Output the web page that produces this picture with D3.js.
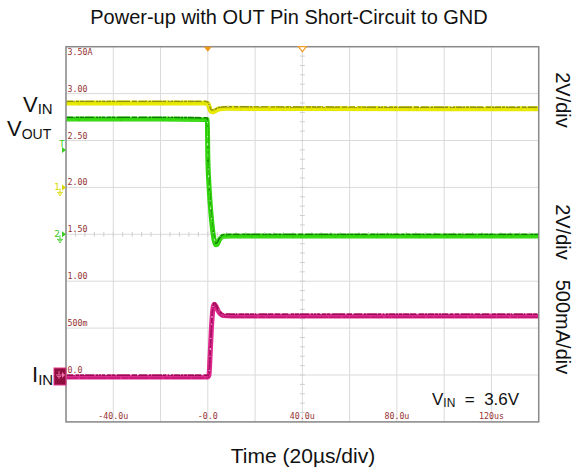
<!DOCTYPE html>
<html>
<head>
<meta charset="utf-8">
<script src="https://cdnjs.cloudflare.com/ajax/libs/d3/7.8.5/d3.min.js"></script>
<style>
  html, body { margin: 0; padding: 0; background: #fff; }
  svg { display: block; }
</style>
</head>
<body>
<svg id="chart" width="578" height="472"></svg>
<script>
// Scope capture: power-up with OUT pin shorted to GND.
// Time in microseconds, voltages in V, current in A.
const vinT  = [-60, -30, -1, 0, 0.6, 1.3, 2.2, 3.2, 4.5, 8, 40, 100, 140];
const vinV  = [3.60, 3.60, 3.60, 3.58, 3.42, 3.25, 3.23, 3.27, 3.34, 3.37, 3.36, 3.35, 3.35];

const voutT = [-60, -20, -0.6, -0.2, 0, 0.5, 1.0, 1.6, 2.2, 2.8, 3.4, 4.0, 5.0, 6.5, 10, 140];
const voutV = [4.92, 4.92, 4.90, 4.88, 3.3, 2.1, 1.3, 0.6, 0.05, -0.3, -0.45, -0.42, -0.22, -0.08, -0.07, -0.07];

const iinT  = [-60, -20, 0, 0.5, 0.95, 1.65, 2.3, 2.8, 3.5, 4.7, 6.5, 10, 140];
const iinA  = [-0.02, -0.02, -0.02, 0.0, 0.2, 0.55, 0.73, 0.755, 0.73, 0.67, 0.635, 0.63, 0.63];

// Graticule labels
const xTickValues = [-40, 0, 40, 80, 120];
const xTickLabels = ["-40.0u", "-0.0", "40.0u", "80.0u", "120us"];
const yTickValues = [3.5, 3.0, 2.5, 2.0, 1.5, 1.0, 0.5, 0.0];
const yTickLabels = ["3.50A", "3.00", "2.50", "2.00", "1.50", "1.00", "500m", "0.0"];

const svg = d3.select("#chart");
const plot = { left: 66, right: 538.7, top: 46.7, bottom: 421.9 };

// Horizontal: 20 us/div, 10 divisions
const x = d3.scaleLinear().domain([-60, 140]).range([plot.left, plot.right]);
// Current channel: 500 mA/div, ground one division up
const yI = d3.scaleLinear().domain([-0.5, 3.5]).range([plot.bottom, plot.top]);
// VIN channel: 2 V/div, ground five divisions up
const yVin = d3.scaleLinear().domain([-10, 6]).range([plot.bottom, plot.top]);
// VOUT channel: 2 V/div, ground four divisions up
const yVout = d3.scaleLinear().domain([-8, 8]).range([plot.bottom, plot.top]);

const g = svg.append("g");

// Grid
const gridColor = "#dadada";
g.selectAll("line.vgrid").data(x.ticks(10)).enter().append("line")
  .attr("x1", d => x(d)).attr("x2", d => x(d))
  .attr("y1", plot.top).attr("y2", plot.bottom)
  .attr("stroke", gridColor).attr("stroke-width", 1);
g.selectAll("line.hgrid").data(yI.ticks(8)).enter().append("line")
  .attr("x1", plot.left).attr("x2", plot.right)
  .attr("y1", d => yI(d)).attr("y2", d => yI(d))
  .attr("stroke", gridColor).attr("stroke-width", 1);

// Minor ticks on the centre cross
const cx = x(40), cy = yI(1.5);
g.selectAll("line.mx").data(d3.range(-60, 140.01, 4)).enter().append("line")
  .attr("x1", d => x(d)).attr("x2", d => x(d))
  .attr("y1", cy - 2.5).attr("y2", cy + 2.5)
  .attr("stroke", "#cfcfcf").attr("stroke-width", 1);
g.selectAll("line.my").data(d3.range(-0.5, 3.501, 0.1)).enter().append("line")
  .attr("x1", cx - 2.5).attr("x2", cx + 2.5)
  .attr("y1", d => yI(d)).attr("y2", d => yI(d))
  .attr("stroke", "#cfcfcf").attr("stroke-width", 1);

// Graticule labels
const tickFont = "'DejaVu Sans Mono', monospace";
const tickColor = "#963232";
g.selectAll("text.ylab").data(yTickValues).enter().append("text")
  .attr("x", plot.left + 1.5)
  .attr("y", (d, i) => i === 0 ? plot.top + 8.5 : yI(d) - 2)
  .attr("font-family", tickFont).attr("font-size", 8.3)
  .attr("fill", tickColor)
  .text((d, i) => yTickLabels[i]);
g.selectAll("text.xlab").data(xTickValues).enter().append("text")
  .attr("x", d => x(d))
  .attr("y", plot.bottom - 3)
  .attr("text-anchor", "middle")
  .attr("font-family", tickFont).attr("font-size", 8.3)
  .attr("fill", tickColor)
  .text((d, i) => xTickLabels[i]);

// Traces
const clip = svg.append("clipPath").attr("id", "plotclip").append("rect")
  .attr("x", plot.left).attr("y", plot.top)
  .attr("width", plot.right - plot.left).attr("height", plot.bottom - plot.top);
const traces = g.append("g").attr("clip-path", "url(#plotclip)");

function drawTrace(ts, vs, yScale, c) {
  const pts = ts.map((t, i) => [t, vs[i]]);
  const line = d3.line().x(d => x(d[0])).y(d => yScale(d[1])).curve(d3.curveMonotoneX);
  const tg = traces.append("g");
  tg.append("path").attr("d", line(pts)).attr("fill", "none")
    .attr("stroke", c.base).attr("stroke-width", 5).attr("stroke-linejoin", "round");
  tg.append("path").attr("d", line(pts)).attr("fill", "none")
    .attr("transform", "translate(0,-1.6)")
    .attr("stroke", c.edge).attr("stroke-width", 1.4)
    .attr("stroke-dasharray", "9,1,3,1,14,2,5,1");
  tg.append("path").attr("d", line(pts)).attr("fill", "none")
    .attr("transform", "translate(0,1.2)")
    .attr("stroke", c.core).attr("stroke-width", 1)
    .attr("stroke-dasharray", "12,2,6,1,20,1");
  tg.append("path").attr("d", line(pts)).attr("fill", "none")
    .attr("transform", "translate(0,-2.2)")
    .attr("stroke", "#ffffff").attr("stroke-width", 0.8)
    .attr("stroke-dasharray", "1,6,2,9,1,13");
}

drawTrace(vinT, vinV, yVin, { base: "#e2e200", edge: "#8f8f10", core: "#f2f200" });
drawTrace(voutT, voutV, yVout, { base: "#2fd40a", edge: "#0f7a00", core: "#45e020" });
drawTrace(iinT, iinA, yI, { base: "#de2a8c", edge: "#9a0a55", core: "#b0106a" });

// Frame
g.append("rect")
  .attr("x", plot.left).attr("y", plot.top)
  .attr("width", plot.right - plot.left).attr("height", plot.bottom - plot.top)
  .attr("fill", "none").attr("stroke", "#8a8a8a").attr("stroke-width", 1.5);

// Trigger position and centre markers on the top edge
const tx = x(0);
g.append("path")
  .attr("d", `M${tx - 4},${plot.top} L${tx + 4},${plot.top} L${tx},${plot.top + 5} Z`)
  .attr("fill", "#f09a1c");
g.append("path")
  .attr("d", `M${cx - 4},${plot.top} L${cx + 4},${plot.top} L${cx},${plot.top + 5} Z`)
  .attr("fill", "#fff").attr("stroke", "#f0a030").attr("stroke-width", 1.2);

// Left-edge channel markers
const green = "#3ccc20", yellow = "#d8d800";
function arrow(yPos, color) {
  g.append("path")
    .attr("d", `M${plot.left - 4},${yPos - 3} L${plot.left},${yPos} L${plot.left - 4},${yPos + 3} Z`)
    .attr("fill", color);
}
function groundSym(xp, yp, color) {
  g.append("path")
    .attr("d", `M${xp},${yp} L${xp},${yp + 4} M${xp - 3},${yp + 4} L${xp + 3},${yp + 4} M${xp - 2},${yp + 5.5} L${xp + 2},${yp + 5.5} M${xp - 1},${yp + 7} L${xp + 1},${yp + 7}`)
    .attr("stroke", color).attr("stroke-width", 0.9).attr("fill", "none");
}
// Trigger level (VOUT)
const trigY = yVout(3.6);
g.append("text").attr("x", plot.left - 4).attr("y", trigY - 3).attr("text-anchor", "middle")
  .attr("font-family", "'DejaVu Sans', sans-serif").attr("font-size", 9).attr("fill", green).text("T");
arrow(trigY, green);
// CH1 ground
const g1 = yVin(0);
g.append("text").attr("x", plot.left - 9).attr("y", g1 + 3).attr("text-anchor", "middle")
  .attr("font-family", "'DejaVu Sans', sans-serif").attr("font-size", 9).attr("fill", yellow).text("1");
groundSym(plot.left - 6, g1 + 1, yellow);
arrow(g1, yellow);
// CH2 ground
const g2 = yVout(0);
g.append("text").attr("x", plot.left - 9).attr("y", g2 + 3).attr("text-anchor", "middle")
  .attr("font-family", "'DejaVu Sans', sans-serif").attr("font-size", 9).attr("fill", green).text("2");
groundSym(plot.left - 6, g2 + 1, green);
arrow(g2, green);
// Current channel ground box
const g4 = yI(0);
g.append("rect").attr("x", plot.left - 12).attr("y", g4 - 7).attr("width", 12).attr("height", 17)
  .attr("fill", "#8e0e3e").attr("stroke", "#e0388a").attr("stroke-width", 1);
groundSym(plot.left - 7, g4 - 4, "#f070b0");
g.append("path")
  .attr("d", `M${plot.left - 4},${g4 - 3} L${plot.left - 1},${g4} L${plot.left - 4},${g4 + 3} Z`)
  .attr("fill", "#f070b0");

// Text labels
const sans = "'Liberation Sans', Arial, sans-serif";
svg.append("text").attr("x", 289).attr("y", 24).attr("text-anchor", "middle")
  .attr("font-family", sans).attr("font-size", 20).attr("fill", "#111")
  .text("Power-up with OUT Pin Short-Circuit to GND");
svg.append("text").attr("x", 303).attr("y", 463).attr("text-anchor", "middle")
  .attr("font-family", sans).attr("font-size", 21).attr("fill", "#111")
  .text("Time (20µs/div)");

function subLabel(xp, yp, main, sub, size, subSize, after) {
  const t = svg.append("text").attr("x", xp).attr("y", yp)
    .attr("font-family", sans).attr("font-size", size).attr("fill", "#111");
  t.append("tspan").text(main);
  t.append("tspan").attr("font-size", subSize).attr("dy", size * 0.12).text(sub);
  if (after) t.append("tspan").attr("dy", -size * 0.12).text(after);
  return t;
}
subLabel(23, 111.5, "V", "IN", 22, 15);
subLabel(7, 136, "V", "OUT", 22, 14);
subLabel(32, 382, "I", "IN", 22, 15);
subLabel(432, 405, "V", "IN", 17, 12, "  =  3.6V").attr("xml:space", "preserve");

// Channel scale labels along the right edge
const scaleLabels = [
  { text: "2V/div", y: 100 },
  { text: "2V/div", y: 232 },
  { text: "500mA/div", y: 327 }
];
svg.selectAll("text.scale").data(scaleLabels).enter().append("text")
  .attr("transform", d => `translate(556,${d.y}) rotate(90)`)
  .attr("text-anchor", "middle")
  .attr("font-family", sans).attr("font-size", 20).attr("fill", "#111")
  .text(d => d.text);
</script>
</body>
</html>
